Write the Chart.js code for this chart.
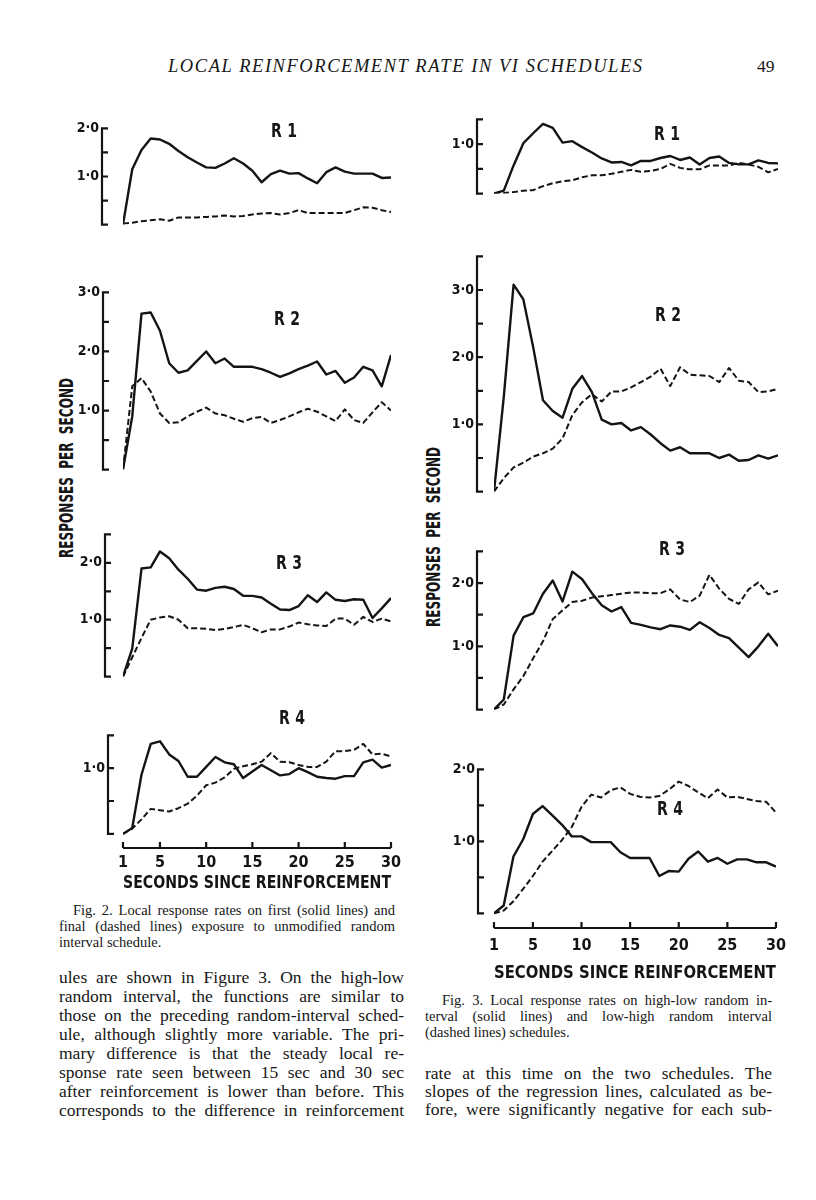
<!DOCTYPE html>
<html lang="en">
<head>
<meta charset="UTF-8">
<title>Local reinforcement rate in VI schedules</title>
<script src="https://cdn.jsdelivr.net/npm/chart.js"></script>
<style>
  body { margin: 0; background: #fff; }
  #page { position: relative; width: 816px; height: 1200px; background: #fff; color: #161616;
          font-family: 'Liberation Serif', 'DejaVu Serif', serif; overflow: hidden; }
  #page canvas { position: absolute; }
  .cond { position: absolute; white-space: nowrap; font-weight: bold; line-height: 1;
          font-family: 'Liberation Sans Narrow', 'DejaVu Sans Condensed', 'DejaVu Sans', sans-serif; }
  .txt { position: absolute; }
  .txt div { text-align: justify; text-align-last: justify; }
  .txt div.last { text-align-last: left; }
</style>
</head>
<body>
<div id="page">
  <div class="txt" id="runhead" style="left:168px; top:56px; font-size:18.5px; font-style:italic; white-space:nowrap;">LOCAL REINFORCEMENT RATE IN VI SCHEDULES</div>
  <div class="txt" style="left:757px; top:56px; font-size:17.5px;">49</div>

  <div class="cond ylab" style="font-size:20px; word-spacing:6px;" data-cx="66" data-cy="468" data-len="180">RESPONSES PER SECOND</div>
  <div class="cond ylab" style="font-size:20px; word-spacing:6px;" data-cx="433" data-cy="537" data-len="180">RESPONSES PER SECOND</div>

  <div class="txt" style="left:59px; top:902px; width:336px; font-size:14.5px; line-height:16px;">
    <div style="padding-left:14px">Fig. 2. Local response rates on first (solid lines) and</div>
    <div>final (dashed lines) exposure to unmodified random</div>
    <div class="last">interval schedule.</div>
  </div>
  <div class="txt" style="left:59px; top:968px; width:345px; font-size:17.5px; line-height:19px;">
    <div>ules are shown in Figure 3. On the high-low</div>
    <div>random interval, the functions are similar to</div>
    <div>those on the preceding random-interval sched-</div>
    <div>ule, although slightly more variable. The pri-</div>
    <div>mary difference is that the steady local re-</div>
    <div>sponse rate seen between 15 sec and 30 sec</div>
    <div>after reinforcement is lower than before. This</div>
    <div>corresponds to the difference in reinforcement</div>
  </div>
  <div class="txt" style="left:425px; top:992px; width:347px; font-size:14.5px; line-height:16px;">
    <div style="padding-left:17px">Fig. 3. Local response rates on high-low random in-</div>
    <div>terval (solid lines) and low-high random interval</div>
    <div class="last">(dashed lines) schedules.</div>
  </div>
  <div class="txt" style="left:425px; top:1064px; width:347px; font-size:17.5px; line-height:18px;">
    <div>rate at this time on the two schedules. The</div>
    <div>slopes of the regression lines, calculated as be-</div>
    <div>fore, were significantly negative for each sub-</div>
  </div>
</div>
<script>
// seconds since reinforcement (one point per 1-sec bin)
const seconds = [1,2,3,4,5,6,7,8,9,10,11,12,13,14,15,16,17,18,19,20,21,22,23,24,25,26,27,28,29,30];
const xTickValues = [1,5,10,15,20,25,30];
const xTitle = 'SECONDS SINCE REINFORCEMENT';

// Fig. 2: first (solid) and final (dashed) exposure, responses per second
const fig2R1Solid  = [0,1.15,1.55,1.79,1.77,1.68,1.53,1.40,1.29,1.19,1.18,1.27,1.38,1.27,1.12,0.88,1.05,1.12,1.06,1.07,0.96,0.86,1.09,1.19,1.10,1.06,1.06,1.06,0.97,0.98];
const fig2R1Dashed = [0.02,0.04,0.07,0.09,0.11,0.08,0.15,0.15,0.15,0.16,0.17,0.19,0.17,0.18,0.21,0.23,0.24,0.21,0.24,0.30,0.24,0.24,0.24,0.24,0.24,0.30,0.36,0.35,0.30,0.26];
const fig2R2Solid  = [0,0.90,2.64,2.66,2.35,1.80,1.64,1.68,1.84,2.00,1.80,1.88,1.74,1.74,1.74,1.70,1.64,1.57,1.63,1.70,1.76,1.83,1.61,1.67,1.47,1.56,1.74,1.68,1.41,1.94];
const fig2R2Dashed = [0,1.41,1.55,1.32,0.95,0.79,0.80,0.90,0.98,1.05,0.95,0.92,0.86,0.81,0.87,0.89,0.79,0.84,0.90,0.97,1.03,0.98,0.90,0.82,1.02,0.84,0.79,0.97,1.14,1.00];
const fig2R3Solid  = [0,0.49,1.90,1.92,2.20,2.08,1.88,1.72,1.53,1.51,1.56,1.58,1.54,1.42,1.42,1.39,1.28,1.18,1.17,1.24,1.43,1.31,1.48,1.35,1.33,1.36,1.35,1.03,1.20,1.38];
const fig2R3Dashed = [0,0.34,0.68,1.00,1.04,1.06,1.00,0.85,0.85,0.84,0.82,0.84,0.87,0.91,0.85,0.78,0.83,0.83,0.88,0.95,0.92,0.90,0.89,1.02,1.02,0.91,1.05,0.96,1.02,0.97];
const fig2R4Solid  = [0,0.09,0.90,1.37,1.41,1.21,1.11,0.87,0.87,1.02,1.17,1.09,1.06,0.85,0.95,1.05,0.97,0.89,0.91,1.00,0.94,0.87,0.85,0.84,0.88,0.88,1.09,1.13,1.01,1.05];
const fig2R4Dashed = [0,0.08,0.22,0.38,0.36,0.34,0.39,0.46,0.58,0.74,0.78,0.86,0.99,1.03,1.06,1.10,1.23,1.10,1.09,1.05,1.02,1.02,1.10,1.26,1.26,1.28,1.37,1.21,1.22,1.18];

// Fig. 3: high-low (solid) and low-high (dashed) random interval
const fig3R1Solid  = [0,0.06,0.57,1.02,1.22,1.41,1.33,1.03,1.06,0.94,0.83,0.71,0.63,0.64,0.57,0.66,0.66,0.72,0.76,0.68,0.73,0.59,0.72,0.75,0.62,0.59,0.59,0.67,0.62,0.61];
const fig3R1Dashed = [0,0.01,0.03,0.06,0.07,0.15,0.21,0.25,0.27,0.33,0.37,0.37,0.40,0.44,0.48,0.44,0.46,0.50,0.60,0.52,0.49,0.49,0.57,0.57,0.57,0.62,0.59,0.54,0.43,0.50];
const fig3R2Solid  = [0,1.41,3.08,2.86,2.15,1.36,1.20,1.10,1.53,1.72,1.48,1.07,1.00,1.02,0.91,0.96,0.85,0.72,0.61,0.66,0.57,0.57,0.57,0.50,0.55,0.46,0.47,0.54,0.49,0.54];
const fig3R2Dashed = [0,0.20,0.36,0.43,0.52,0.57,0.64,0.79,1.14,1.33,1.45,1.34,1.49,1.49,1.55,1.63,1.71,1.83,1.57,1.85,1.74,1.73,1.72,1.63,1.84,1.65,1.63,1.48,1.49,1.53];
const fig3R3Solid  = [0,0.16,1.17,1.46,1.52,1.83,2.04,1.71,2.18,2.06,1.84,1.65,1.55,1.62,1.37,1.34,1.30,1.27,1.33,1.31,1.26,1.38,1.29,1.18,1.13,0.98,0.83,1.00,1.20,1.00];
const fig3R3Dashed = [0,0.08,0.32,0.53,0.81,1.08,1.43,1.57,1.70,1.72,1.77,1.79,1.81,1.83,1.85,1.85,1.84,1.84,1.90,1.74,1.70,1.80,2.13,1.91,1.75,1.67,1.90,2.01,1.82,1.88];
const fig3R4Solid  = [0,0.11,0.79,1.03,1.38,1.49,1.36,1.23,1.07,1.07,0.99,0.99,0.99,0.85,0.77,0.77,0.77,0.52,0.59,0.58,0.76,0.86,0.72,0.77,0.69,0.75,0.75,0.71,0.71,0.65];
const fig3R4Dashed = [0,0.04,0.17,0.34,0.52,0.72,0.87,1.02,1.20,1.48,1.65,1.61,1.71,1.75,1.66,1.62,1.61,1.63,1.72,1.83,1.77,1.68,1.60,1.72,1.61,1.62,1.59,1.56,1.55,1.40];

const ink = '#141414';
const condFont = "'Liberation Sans Narrow', 'DejaVu Sans Condensed', 'DejaVu Sans', sans-serif";
const YW = 60, PT = 12, PB = 4, PR = 16;

// one entry per panel: data + where its plot area sits on the page
const panels = [
  { name: 'R 1', solid: fig2R1Solid, dashed: fig2R1Dashed, yMax: 2.0, yLabels: [1, 2], x1: 123, x30: 391, axisX: 102, top: 108, zero: 253, tag: [284, 130] },
  { name: 'R 2', solid: fig2R2Solid, dashed: fig2R2Dashed, yMax: 3.0, yLabels: [1, 2, 3], x1: 123, x30: 391, axisX: 103, top: 273, zero: 497, tag: [287, 318] },
  { name: 'R 3', solid: fig2R3Solid, dashed: fig2R3Dashed, yMax: 2.5, yLabels: [1, 2], x1: 123, x30: 391, axisX: 105, top: 517, zero: 702, tag: [289, 562] },
  { name: 'R 4', solid: fig2R4Solid, dashed: fig2R4Dashed, yMax: 1.5, yLabels: [1], x1: 123, x30: 391, axisX: 108, top: 721, zero: 832, xAxis: 848, xh: 48, tickPad: 5, tag: [292, 717] },
  { name: 'R 1', solid: fig3R1Solid, dashed: fig3R1Dashed, yMax: 1.5, yLabels: [1], x1: 494, x30: 778, axisX: 477, top: 103, zero: 218, tag: [667, 133] },
  { name: 'R 2', solid: fig3R2Solid, dashed: fig3R2Dashed, yMax: 3.5, yLabels: [1, 2, 3], x1: 494, x30: 778, axisX: 477, top: 240, zero: 516, tag: [668, 314] },
  { name: 'R 3', solid: fig3R3Solid, dashed: fig3R3Dashed, yMax: 2.5, yLabels: [1, 2], x1: 494, x30: 778, axisX: 477, top: 535, zero: 734, tag: [672, 548] },
  { name: 'R 4', solid: fig3R4Solid, dashed: fig3R4Dashed, yMax: 2.0, yLabels: [1, 2], x1: 494, x30: 778, axisX: 478, top: 754, zero: 912, xAxis: 928, xh: 58, tickPad: 8, tag: [670, 808] }
];

// bracket-style axes as in the original drawing
const bracketAxes = {
  id: 'bracketAxes',
  afterDraw(chart, args, opts) {
    const { ctx, chartArea, scales: { x, y } } = chart;
    const ax = chartArea.left - opts.gap;
    const yTop = y.getPixelForValue(opts.yMax);
    const y0 = y.getPixelForValue(0);
    ctx.save();
    ctx.strokeStyle = ink;
    ctx.lineWidth = 2.2;
    ctx.beginPath();
    ctx.moveTo(ax + 6, yTop); ctx.lineTo(ax, yTop); ctx.lineTo(ax, y0); ctx.lineTo(ax + 6, y0);
    for (let v = 0.5; v < opts.yMax - 0.01; v += 0.5) {
      const py = y.getPixelForValue(v);
      ctx.moveTo(ax, py); ctx.lineTo(ax + 6, py);
    }
    ctx.stroke();
    if (opts.xAxis) {
      const xb = chartArea.bottom;
      ctx.beginPath();
      ctx.moveTo(x.getPixelForValue(1), xb); ctx.lineTo(x.getPixelForValue(30), xb);
      xTickValues.forEach(v => {
        const px = x.getPixelForValue(v);
        ctx.moveTo(px, xb); ctx.lineTo(px, xb - 6);
      });
      ctx.stroke();
    }
    ctx.restore();
  }
};

const page = document.getElementById('page');

panels.forEach(p => {
  const bottomPx = p.xAxis || p.zero;
  const yMin = p.xAxis ? -p.yMax * (p.xAxis - p.zero) / (p.zero - p.top) : 0;
  const W = (p.x30 - p.x1) + YW + PR;
  const H = PT + (bottomPx - p.top) + (p.xh || 0) + PB;
  const cv = document.createElement('canvas');
  cv.width = W; cv.height = H;
  cv.style.left = (p.x1 - YW) + 'px';
  cv.style.top = (p.top - PT) + 'px';
  cv.style.width = W + 'px'; cv.style.height = H + 'px';
  page.appendChild(cv);

  const gap = p.x1 - p.axisX;
  new Chart(cv.getContext('2d'), {
    type: 'line',
    data: {
      datasets: [
        { data: seconds.map((s, i) => ({ x: s, y: p.solid[i] })), borderColor: ink, borderWidth: 2.4 },
        { data: seconds.map((s, i) => ({ x: s, y: p.dashed[i] })), borderColor: ink, borderWidth: 2, borderDash: [6, 3] }
      ]
    },
    options: {
      responsive: false,
      animation: false,
      devicePixelRatio: 1,
      layout: { padding: { top: PT, right: PR, bottom: PB, left: 0 } },
      elements: { point: { radius: 0 }, line: { tension: 0, fill: false, borderJoinStyle: 'round' } },
      plugins: {
        legend: { display: false },
        tooltip: { enabled: false },
        bracketAxes: { gap: gap, yMax: p.yMax, xAxis: !!p.xAxis }
      },
      scales: {
        x: {
          type: 'linear', min: 1, max: 30,
          display: !!p.xAxis,
          afterBuildTicks: s => { s.ticks = xTickValues.map(v => ({ value: v })); },
          afterFit: s => { s.height = p.xh || 0; },
          grid: { display: false, drawTicks: false },
          border: { display: false },
          ticks: { autoSkip: false, maxRotation: 0, padding: p.tickPad || 4, color: ink,
                   font: { family: condFont, size: 16, weight: 'bold' }, callback: v => String(v) },
          title: { display: true, text: xTitle, color: ink, padding: { top: 0, bottom: 2 },
                   font: { family: condFont, size: 18, weight: 'bold' } }
        },
        y: {
          min: yMin, max: p.yMax,
          afterBuildTicks: s => { s.ticks = p.yLabels.map(v => ({ value: v })); },
          afterFit: s => { s.width = YW; },
          grid: { display: false, drawTicks: false },
          border: { display: false },
          ticks: { padding: gap + 3, color: ink, font: { family: condFont, size: 14, weight: 'bold' },
                   callback: v => v.toFixed(1).replace('.', '\u00b7') }
        }
      }
    },
    plugins: [bracketAxes]
  });

  const tag = document.createElement('div');
  tag.className = 'cond';
  tag.textContent = p.name;
  tag.style.fontSize = '20px';
  tag.style.wordSpacing = '1px';
  tag.style.left = p.tag[0] + 'px';
  tag.style.top = p.tag[1] + 'px';
  tag.style.transform = 'translate(-50%, -50%) scaleX(0.78)';
  page.appendChild(tag);
});

// running head: spread the letters over the same span as the page
const head = document.getElementById('runhead');
const headW = head.getBoundingClientRect().width;
head.style.letterSpacing = ((474 - headW) / (head.textContent.length - 1)) + 'px';

// vertical axis titles: squeeze to the printed length, then turn them
document.querySelectorAll('.ylab').forEach(el => {
  const r = el.getBoundingClientRect();
  const k = (+el.dataset.len) / r.width;
  el.style.left = (+el.dataset.cx - r.width / 2) + 'px';
  el.style.top = (+el.dataset.cy - r.height / 2) + 'px';
  el.style.transformOrigin = '50% 50%';
  el.style.transform = 'rotate(-90deg) scaleX(' + k + ')';
});
</script>
</body>
</html>
